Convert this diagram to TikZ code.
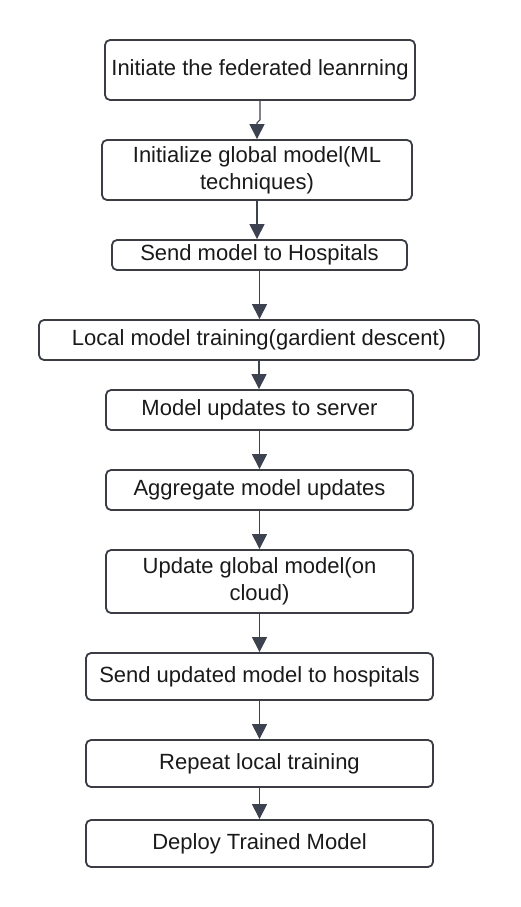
\documentclass[tikz,border=0pt]{standalone}
\usepackage{fontspec}
\setmainfont{Liberation Sans}
\usetikzlibrary{arrows.meta}
\definecolor{bordercol}{HTML}{3A3D45}
\definecolor{arrowcol}{HTML}{3D4250}
\definecolor{textcol}{HTML}{1A1A1A}
\begin{document}
\begin{tikzpicture}[x=1pt,y=-1pt,
  box/.style={draw=bordercol, line width=1.8pt, rounded corners=5pt, fill=white,
    align=center, inner sep=0pt, font=\fontsize{22}{27}\selectfont, text=textcol},
  arr/.style={draw=arrowcol, line width=1.1pt, -{Triangle[width=15pt,length=15pt]}, color=arrowcol}]
\useasboundingbox[fill=white] (0,0) rectangle (520,907);
\node[box, minimum width=310pt, minimum height=60pt] (b1) at (260,70) {Initiate the federated leanrning};
\node[box, minimum width=310pt, minimum height=60pt] (b2) at (257,170) {Initialize global model(ML\\techniques)};
\node[box, minimum width=295pt, minimum height=30pt] (b3) at (259.5,255) {Send model to Hospitals};
\node[box, minimum width=440pt, minimum height=40pt] (b4) at (259,340) {Local model training(gardient descent)};
\node[box, minimum width=307pt, minimum height=40pt] (b5) at (259.5,410) {Model updates to server};
\node[box, minimum width=307pt, minimum height=40pt] (b6) at (259.5,490) {Aggregate model updates};
\node[box, minimum width=307pt, minimum height=63pt] (b7) at (259.5,581.5) {Update global model(on\\cloud)};
\node[box, minimum width=347pt, minimum height=47pt] (b8) at (259.5,676.5) {Send updated model to hospitals};
\node[box, minimum width=347pt, minimum height=47pt] (b9) at (259.5,763.5) {Repeat local training};
\node[box, minimum width=347pt, minimum height=47pt] (b10) at (259.5,843.5) {Deploy Trained Model};
\draw[arr] (b1.south) -- ++(0,19) -- ++(-3,3) -- (b2.north);
\draw[arr] (b2.south) -- (b2.south |- b3.north);
\draw[arr] (b3.south) -- (b3.south |- b4.north);
\draw[arr] (b4.south) -- (b4.south |- b5.north);
\draw[arr] (b5.south) -- (b5.south |- b6.north);
\draw[arr] (b6.south) -- (b6.south |- b7.north);
\draw[arr] (b7.south) -- (b7.south |- b8.north);
\draw[arr] (b8.south) -- (b8.south |- b9.north);
\draw[arr] (b9.south) -- (b9.south |- b10.north);
\end{tikzpicture}
\end{document}
